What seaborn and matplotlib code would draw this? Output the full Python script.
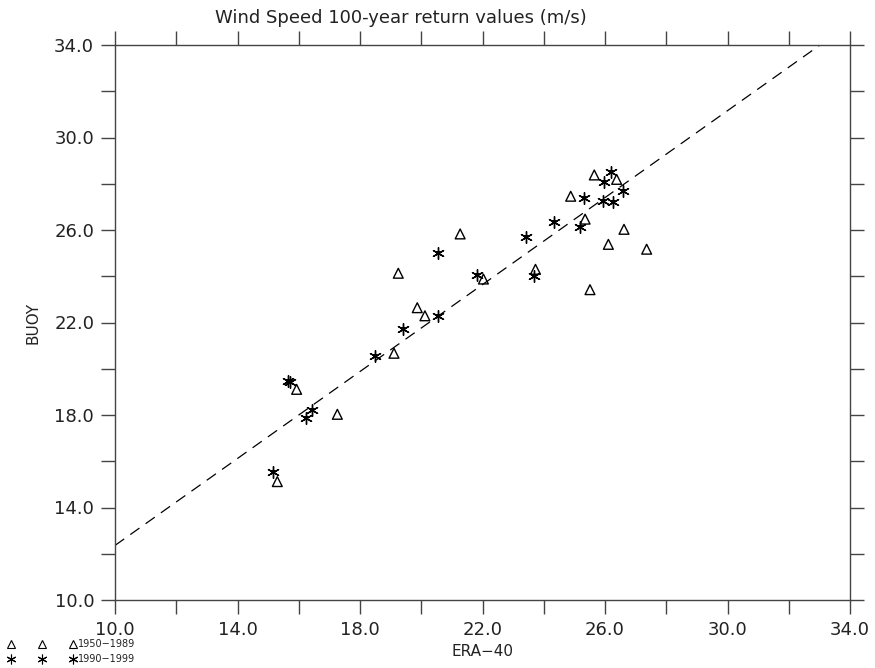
import matplotlib
matplotlib.use("Agg")
import matplotlib.pyplot as plt
import seaborn as sns
import numpy as np
import pandas as pd
from matplotlib.lines import Line2D

# ---- data ----
tri_x = [15.30, 15.93, 17.26, 19.11, 19.87, 20.12, 19.25, 21.27, 22.03, 23.73,
         24.88, 25.35, 25.51, 25.65, 26.38, 26.11, 26.62, 27.36]
tri_y = [15.12, 19.11, 18.03, 20.67, 22.64, 22.29, 24.13, 25.83, 23.88, 24.30,
         27.46, 26.47, 23.42, 28.38, 28.19, 25.38, 26.03, 25.17]
star_x = [15.15, 15.65, 15.72, 16.24, 16.44, 18.48, 19.39, 20.56, 20.56, 21.83,
          23.42, 23.68, 24.32, 25.18, 25.30, 25.92, 25.98, 26.19, 26.25, 26.60]
star_y = [15.55, 19.45, 19.42, 17.86, 18.22, 20.55, 21.72, 22.29, 25.00, 24.05,
          25.70, 24.01, 26.36, 26.11, 27.39, 27.27, 28.06, 28.52, 27.22, 27.70]
fit_intercept_at_10 = 12.36
fit_slope = 0.94
period_labels = ["1950\u22121989", "1990\u22121999"]
ticks = [10.0, 14.0, 18.0, 22.0, 26.0, 30.0, 34.0]
minor_ticks = [12.0, 16.0, 20.0, 24.0, 28.0, 32.0]
title = "Wind Speed 100-year return values (m/s)"
xlabel = "ERA\u221240"
ylabel = "BUOY"

df_tri = pd.DataFrame({"x": tri_x, "y": tri_y})
df_star = pd.DataFrame({"x": star_x, "y": star_y})

sns.set_style("white")
plt.rcParams["font.family"] = ["DejaVu Sans"]
txtc = "#222222"

fig = plt.figure(figsize=(8.75, 6.68), dpi=100)
ax = fig.add_axes([115/875, 1-600/668, (850-115)/875, (600-45)/668])

# regression line
xl = np.array([10.0, 34.0])
yl = fit_intercept_at_10 + fit_slope * (xl - 10.0)
ax.plot(xl, yl, color="black", lw=0.9, dashes=(9, 6))

sns.scatterplot(data=df_tri, x="x", y="y", ax=ax, marker="^", s=50,
                facecolors="none", edgecolor="black", linewidth=1.0)
sns.scatterplot(data=df_star, x="x", y="y", ax=ax, marker=(6, 2, 0), s=70,
                color="black", edgecolor="black", linewidth=1.0)
sns.scatterplot(data=df_star, x="x", y="y", ax=ax, marker="s", s=10,
                color="black", edgecolor="black", linewidth=0)

ax.set_xlim(10, 34)
ax.set_ylim(10, 34)
ax.set_xticks(ticks)
ax.set_xticks(minor_ticks, minor=True)
ax.set_yticks(ticks)
ax.set_yticks(minor_ticks, minor=True)
ax.set_xticklabels([f"{t:.1f}" for t in ticks])
ax.set_yticklabels([f"{t:.1f}" for t in ticks])
for side in ["top", "right", "bottom", "left"]:
    ax.spines[side].set_visible(True)
    ax.spines[side].set_color("#444444")
    ax.spines[side].set_linewidth(1.0)
ax.tick_params(which="both", direction="out", length=10, width=1.0, color="#444444",
               top=True, right=True, bottom=True, left=True,
               labeltop=False, labelright=False, labelbottom=True, labelleft=True)
ax.tick_params(axis="both", which="major", labelsize=13, labelcolor=txtc, pad=5)
ax.set_xlabel(xlabel, fontsize=11, color=txtc, labelpad=4)
ax.set_ylabel(ylabel, fontsize=11, color=txtc, labelpad=10)
ax.grid(False)

fig.text(215/875, 1-18/668, title, ha="left", va="center", fontsize=13, color=txtc)

handles = [
    Line2D([], [], linestyle="none", marker="^", markersize=6, markerfacecolor="none",
           markeredgecolor="black", markeredgewidth=0.8),
    Line2D([], [], linestyle="none", marker=(6, 2, 0), markersize=7,
           color="black", markeredgewidth=0.8),
]
leg = fig.legend(handles, period_labels, loc="lower left",
                 bbox_to_anchor=(6/875, 2/668),
                 numpoints=3, frameon=False, fontsize=7, handlelength=7.0,
                 handletextpad=0.2, labelspacing=0.5, borderaxespad=0.0,
                 borderpad=0.2)
for t in leg.get_texts():
    t.set_color(txtc)

fig.savefig("out.png", dpi=100)
